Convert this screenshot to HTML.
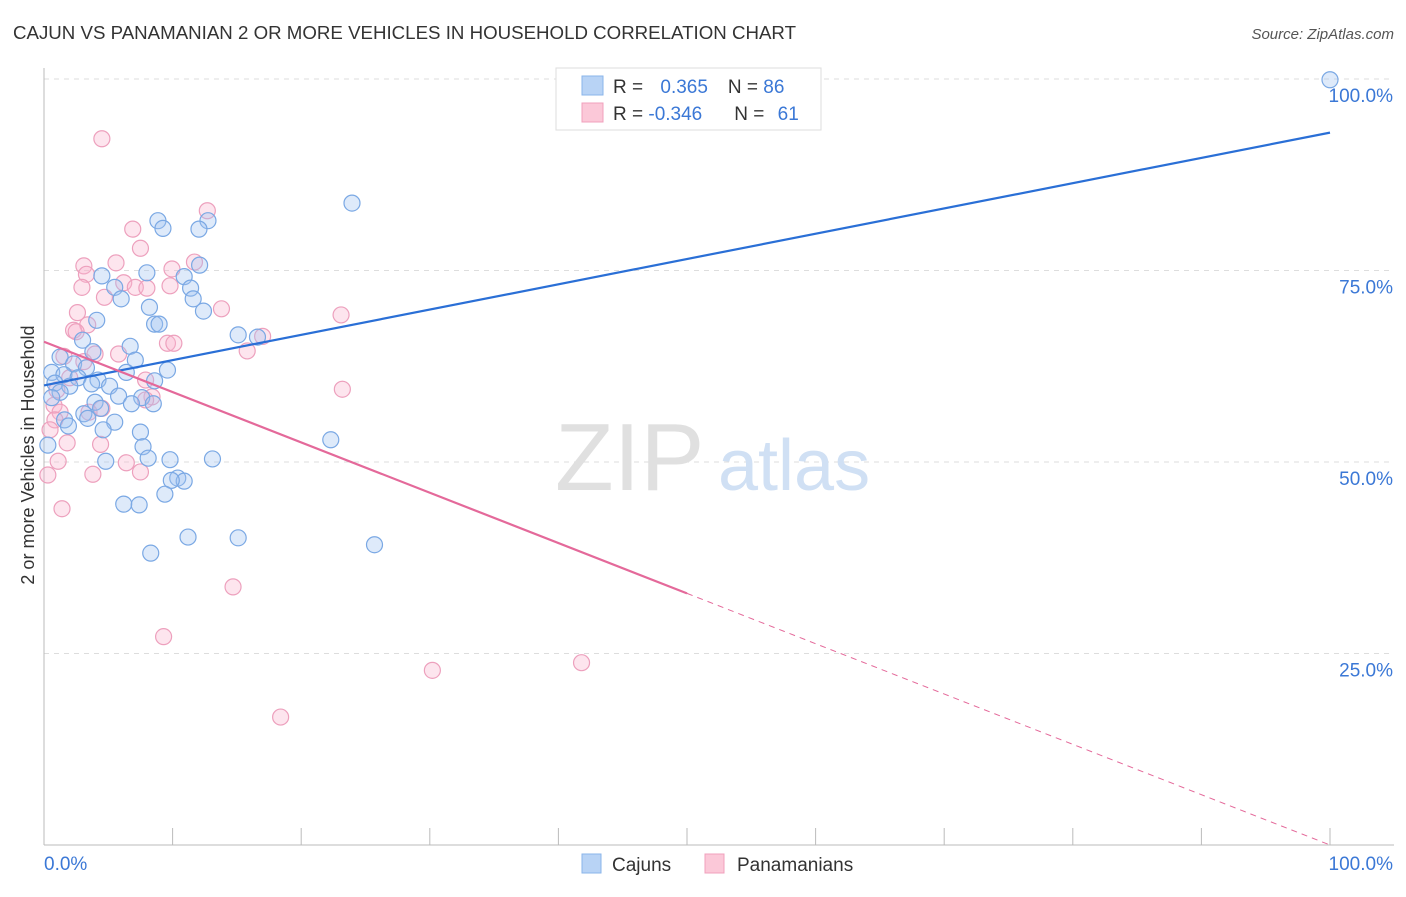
<!DOCTYPE html>
<html><head><meta charset="utf-8"><style>
body{margin:0;background:#fff;font-family:"Liberation Sans",sans-serif;}
svg text{font-family:"Liberation Sans",sans-serif;}
</style></head><body>
<svg id="chart" width="1406" height="892">
<text x="13" y="39" font-size="18" fill="#333" textLength="783" lengthAdjust="spacingAndGlyphs">CAJUN VS PANAMANIAN 2 OR MORE VEHICLES IN HOUSEHOLD CORRELATION CHART</text>
<text x="1394" y="39" font-size="15" fill="#555" font-style="italic" text-anchor="end">Source: ZipAtlas.com</text>
<g id="grid"></g>
<g>
<text x="555" y="490" font-size="96" fill="#e0e0e0" font-family="Liberation Serif">ZIP</text>
<text x="718" y="490" font-size="72" fill="#d0e0f4">atlas</text>
</g>
<g id="pts"></g>
<g id="lines"></g>
<text transform="translate(34,455) rotate(-90)" font-size="18" fill="#333" text-anchor="middle">2 or more Vehicles in Household</text>
<g>
<rect x="556" y="68" width="265" height="62" fill="#fff" stroke="#ddd"/>
<rect x="582" y="76" width="21" height="19" fill="#b8d3f5" stroke="#8ab4ea"/>
<rect x="582" y="103" width="21" height="19" fill="#fbc8d8" stroke="#f0a0bc"/>
<text x="613" y="93" font-size="19" fill="#333">R = <tspan fill="#3b78d6" dx="12">0.365</tspan><tspan dx="20" fill="#333">N = </tspan><tspan fill="#3b78d6">86</tspan></text>
<text x="613" y="120" font-size="19" fill="#333">R = <tspan fill="#3b78d6">-0.346</tspan><tspan dx="32" fill="#333">N = </tspan><tspan fill="#3b78d6" dx="8">61</tspan></text>
</g>
<g>
<rect x="582" y="854" width="19" height="19" fill="#b8d3f5" stroke="#8ab4ea"/>
<text x="612" y="871" font-size="19" fill="#333">Cajuns</text>
<rect x="705" y="854" width="19" height="19" fill="#fbc8d8" stroke="#f0a0bc"/>
<text x="737" y="871" font-size="19" fill="#333">Panamanians</text>
</g>
</svg>
<script>
const yTicks=[25,50,75,100];
const yTickLabels=["25.0%","50.0%","75.0%","100.0%"];
const xTicks=[0,10,20,30,40,50,60,70,80,90,100];
const blueX=[100,23.95,8.86,9.25,12.75,12.05,12.1,4.5,8.0,10.9,5.5,11.4,6.0,11.6,8.2,12.4,4.1,8.6,8.95,15.1,16.6,3.0,6.7,3.8,1.25,7.1,2.3,3.3,6.4,9.6,0.6,1.55,2.65,4.2,8.6,0.85,2.0,5.1,3.7,1.25,5.8,7.6,0.6,3.97,6.8,8.5,4.4,3.1,3.4,1.6,5.5,1.9,4.6,7.5,22.3,7.7,0.3,8.1,9.8,13.1,4.8,10.4,10.9,9.9,9.4,6.2,7.4,11.2,15.1,8.3,25.7];
const blueY=[99.9,83.8,81.5,80.5,81.5,80.4,75.7,74.3,74.7,74.2,72.8,72.7,71.3,71.3,70.2,69.7,68.5,68.0,68.0,66.6,66.3,65.9,65.1,64.4,63.7,63.3,62.8,62.3,61.7,62.0,61.7,61.4,61.0,60.7,60.6,60.3,59.9,59.9,60.2,59.1,58.6,58.4,58.4,57.8,57.6,57.6,57.0,56.3,55.7,55.5,55.2,54.7,54.2,53.9,52.9,52.0,52.2,50.5,50.3,50.4,50.1,47.9,47.5,47.6,45.8,44.5,44.4,40.2,40.1,38.1,39.2];
const pinkX=[4.5,12.7,6.9,7.5,3.1,5.6,3.3,9.95,11.7,6.2,7.1,8.0,2.95,9.8,4.7,13.8,2.6,23.1,3.4,2.3,2.5,9.6,10.1,17.0,15.8,3.97,5.8,1.55,3.1,2.0,7.9,23.2,1.0,8.4,7.9,0.78,4.5,1.25,3.5,0.85,0.47,1.8,4.4,1.1,6.4,7.5,3.8,0.3,1.4,14.7,9.3,30.2,41.8,18.4];
const pinkY=[92.2,82.8,80.4,77.9,75.6,76.0,74.5,75.2,76.1,73.4,72.8,72.7,72.8,73.0,71.5,70.0,69.5,69.2,67.9,67.2,67.0,65.5,65.5,66.4,64.5,64.1,64.1,63.8,63.1,61.0,60.7,59.5,59.4,58.5,58.1,57.4,57.0,56.5,56.5,55.5,54.2,52.5,52.3,50.1,49.9,48.7,48.4,48.3,43.9,33.7,27.2,22.8,23.8,16.7];
const blueLine=[60.0,93.0];
const pinkLine=[65.7,0];
const pinkSolidEnd=50;
const X=v=>44+v*12.86, Y=v=>845-v*7.66;
const NS="http://www.w3.org/2000/svg";
function mk(t,a,p){const e=document.createElementNS(NS,t);for(const k in a)e.setAttribute(k,a[k]);p.appendChild(e);return e;}
const grid=document.getElementById('grid');
yTicks.forEach((t,i)=>{
 const l=mk('line',{x1:44,x2:1394,y1:Y(t),y2:Y(t),stroke:'#ddd','stroke-dasharray':'5,5'},grid);
 
 
 const tx=mk('text',{x:1393,y:Y(t)+23,'font-size':19,fill:'#3b78d6','text-anchor':'end'},grid);
 tx.textContent=yTickLabels[i];
 
 
});
const ax=mk('line',{x1:44,x2:44,y1:68,y2:845,stroke:'#bbb'},grid);


const bx=mk('line',{x1:44,x2:1394,y1:845,y2:845,stroke:'#bbb'},grid);


xTicks.forEach(t=>{
 const l=mk('line',{x1:X(t),x2:X(t),y1:828,y2:845,stroke:'#bbb'},grid);
 
 
});
const xl0=mk('text',{x:44,y:870,'font-size':19,fill:'#3b78d6'},grid);xl0.textContent='0.0%';


const xl1=mk('text',{x:1393,y:870,'font-size':19,fill:'#3b78d6','text-anchor':'end'},grid);xl1.textContent='100.0%';


const pts=document.getElementById('pts');
pinkX.forEach((x,i)=>{
 const c=mk('circle',{cx:X(x),cy:Y(pinkY[i]),r:8,fill:'rgba(248,180,205,0.35)',stroke:'#eda0bd','stroke-width':1.2},pts);
 
 
});
blueX.forEach((x,i)=>{
 const c=mk('circle',{cx:X(x),cy:Y(blueY[i]),r:8,fill:'rgba(160,195,240,0.35)',stroke:'#7aa8e4','stroke-width':1.2},pts);
 
 
});
const lines=document.getElementById('lines');
const bl=mk('line',{x1:X(0),y1:Y(blueLine[0]),x2:X(100),y2:Y(blueLine[1]),stroke:'#2a6fd6','stroke-width':2.2},lines);


const pAt=x=>pinkLine[0]+(pinkLine[1]-pinkLine[0])*x/100;
const pl=mk('line',{x1:X(0),y1:Y(pAt(0)),x2:X(pinkSolidEnd),y2:Y(pAt(pinkSolidEnd)),stroke:'#e4699a','stroke-width':2.2},lines);


const pd=mk('line',{x1:X(pinkSolidEnd),y1:Y(pAt(pinkSolidEnd)),x2:X(100),y2:Y(pAt(100)),stroke:'#e4699a','stroke-width':1,'stroke-dasharray':'6,5'},lines);


</script>
</body></html>
